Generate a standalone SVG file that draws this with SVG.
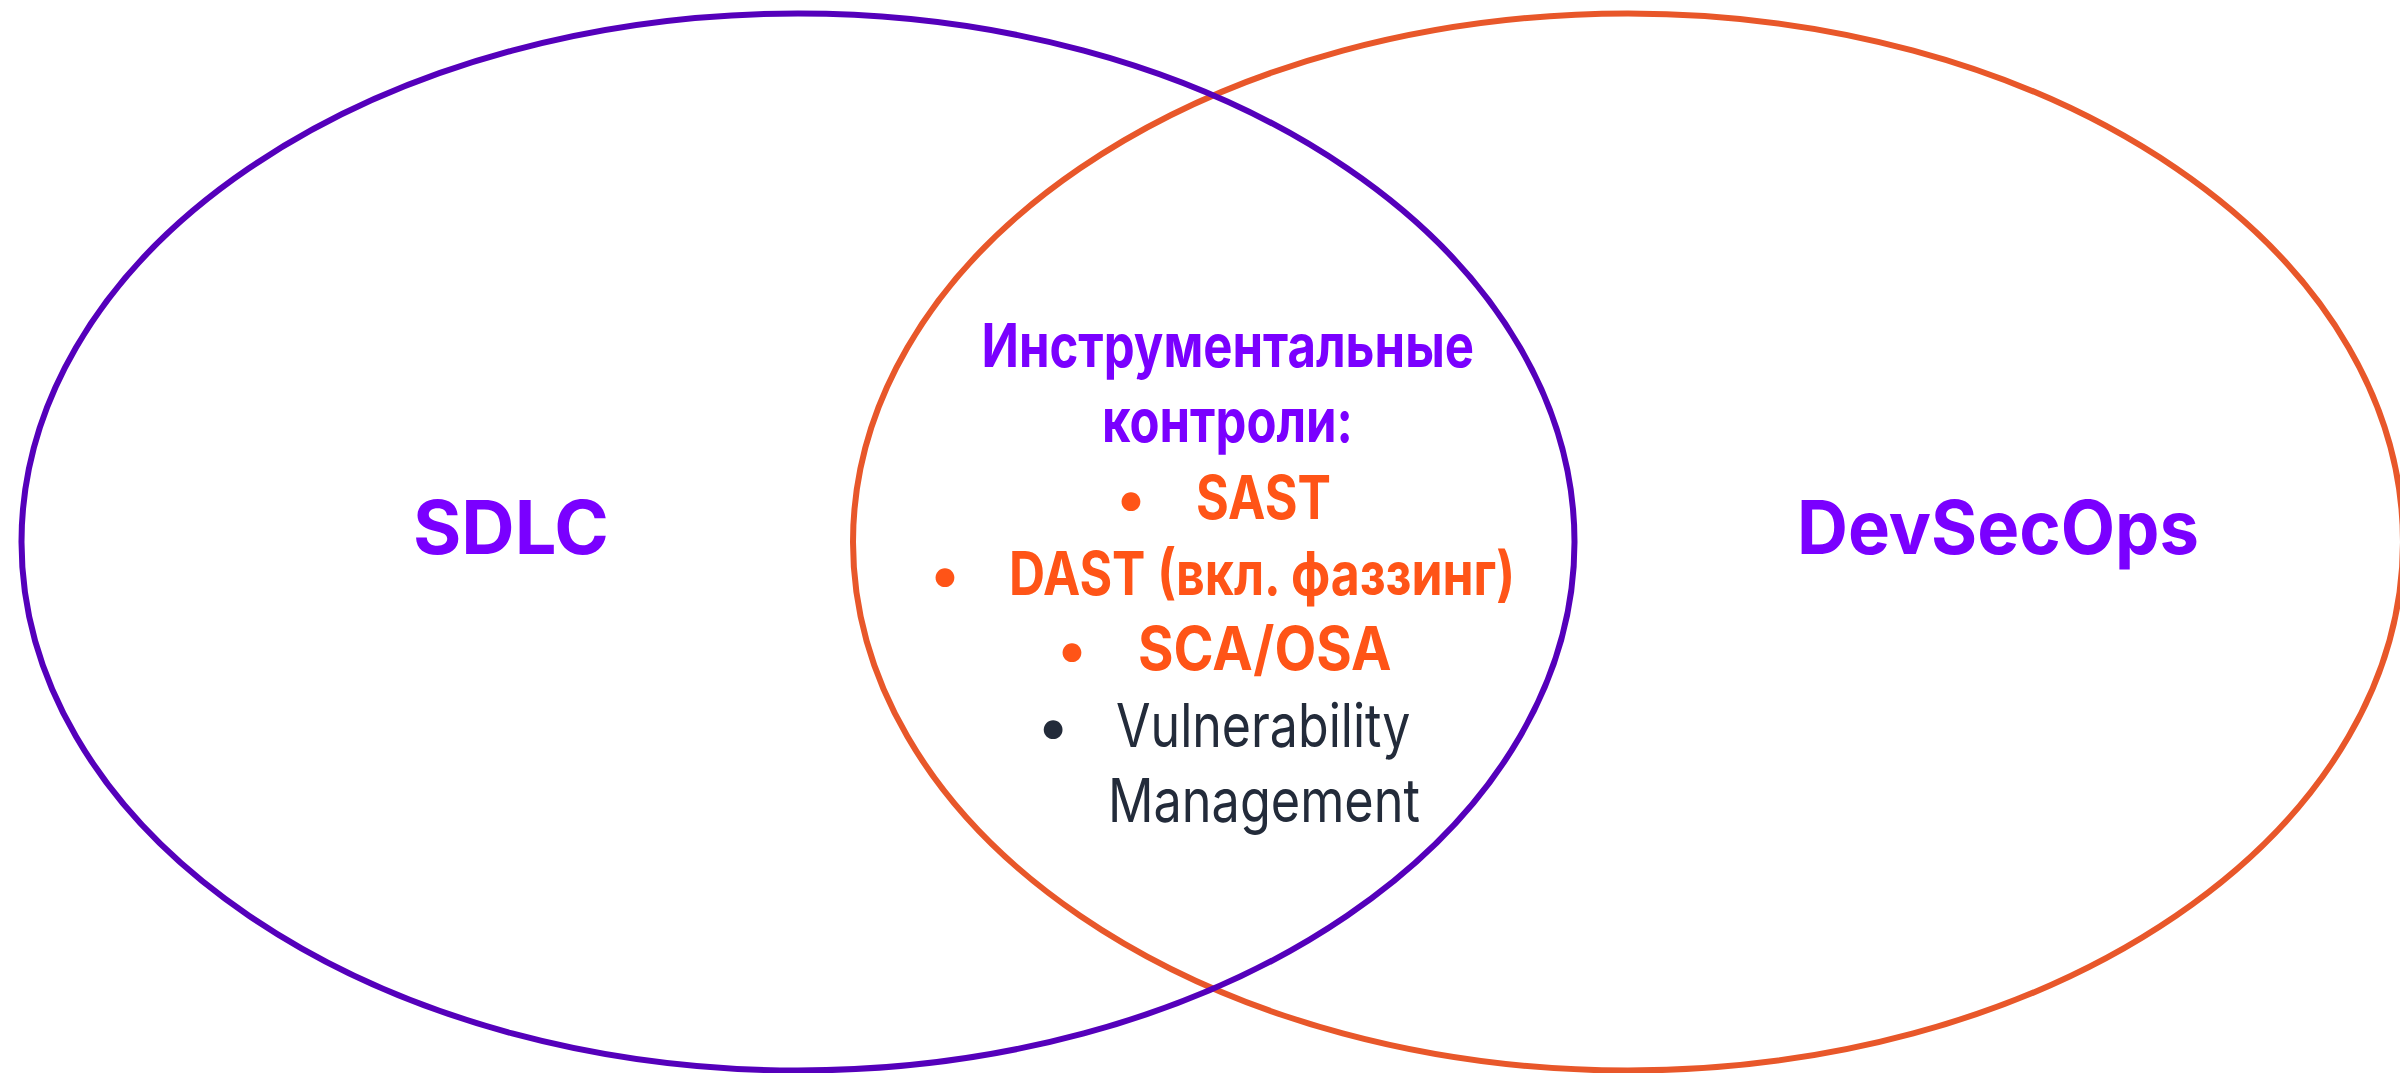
<svg xmlns="http://www.w3.org/2000/svg" width="2400" height="1073" viewBox="0 0 2400 1073">
<style>
.ring{fill:none;stroke-width:6}
.t{font-family:Inter,"Noto Sans","Liberation Sans",sans-serif}
.big{font-size:74px;font-weight:700;fill:#7A00FF}
.mid{font-size:60px;font-weight:700}
.pur{fill:#7A00FF}
.org{fill:#FF5417}
.dark{fill:#232B3A;font-weight:400}
</style>
<rect width="2400" height="1073" fill="#ffffff"/>
<g id="devsecops">
<ellipse class="ring" cx="1628" cy="542" rx="775" ry="528.5" stroke="#E8572A"/>
<text class="t big" x="1797" y="554" textLength="402" lengthAdjust="spacingAndGlyphs">DevSecOps</text>
</g>
<g id="sdlc">
<ellipse class="ring" cx="798" cy="542" rx="776.5" ry="528.5" stroke="#5500BB"/>
<text class="t big" x="413" y="554" textLength="196" lengthAdjust="spacingAndGlyphs">SDLC</text>
</g>
<g id="overlap">
<text class="t mid pur" x="981.5" y="367" textLength="492.5" lengthAdjust="spacingAndGlyphs">Инструментальные</text>
<text class="t mid pur" x="1102" y="442" textLength="251" lengthAdjust="spacingAndGlyphs">контроли:</text>
<text class="t mid org" x="1131" y="518.5" text-anchor="middle">•</text>
<text class="t mid org" x="1196" y="518.5" textLength="135" lengthAdjust="spacingAndGlyphs">SAST</text>
<text class="t mid org" x="945" y="594.5" text-anchor="middle">•</text>
<text class="t mid org" x="1009" y="594.5" textLength="506" lengthAdjust="spacingAndGlyphs">DAST (вкл. фаззинг)</text>
<text class="t mid org" x="1072" y="670" text-anchor="middle">•</text>
<text class="t mid org" x="1138" y="670" textLength="253.5" lengthAdjust="spacingAndGlyphs">SCA/OSA</text>
<text class="t mid dark" x="1053" y="746.7" text-anchor="middle">•</text>
<text class="t mid dark" x="1116" y="746.7" textLength="294.5" lengthAdjust="spacingAndGlyphs">Vulnerability</text>
<text class="t mid dark" x="1108" y="822" textLength="312" lengthAdjust="spacingAndGlyphs">Management</text>
</g>
<g id="connectors"/>
</svg>
